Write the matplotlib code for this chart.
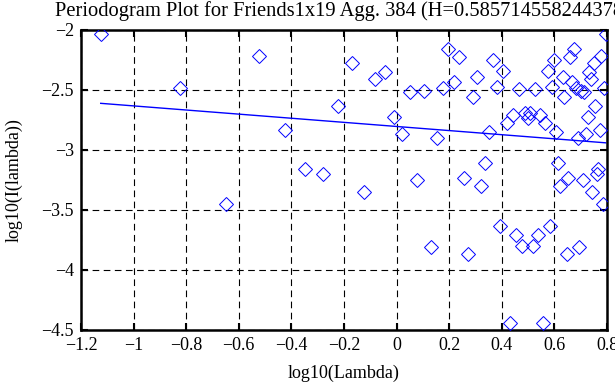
import matplotlib
matplotlib.use("Agg")
import matplotlib.pyplot as plt
import numpy as np

plt.rcParams['font.family'] = ['Liberation Serif', 'DejaVu Serif']
plt.rcParams['axes.unicode_minus'] = True

# log10 of Fourier frequencies 2*pi*k/84, k = 1..83
log_lambda = [
    -1.125, -0.824, -0.648, -0.523, -0.426, -0.347, -0.280, -0.222, -0.171, -0.125,
    -0.084, -0.046, -0.011, 0.021, 0.051, 0.079, 0.105, 0.130, 0.154, 0.176,
    0.197, 0.217, 0.237, 0.255, 0.273, 0.290, 0.306, 0.322, 0.337, 0.352,
    0.366, 0.380, 0.394, 0.406, 0.419, 0.431, 0.443, 0.455, 0.466, 0.477,
    0.488, 0.498, 0.508, 0.518, 0.528, 0.538, 0.547, 0.556, 0.565, 0.574,
    0.583, 0.591, 0.599, 0.607, 0.615, 0.623, 0.631, 0.638, 0.646, 0.653,
    0.660, 0.667, 0.674, 0.681, 0.688, 0.695, 0.701, 0.708, 0.714, 0.720,
    0.726, 0.732, 0.738, 0.744, 0.750, 0.756, 0.761, 0.767, 0.773, 0.778,
    0.784, 0.789, 0.795,
]
log_periodogram = [
    -2.033, -2.483, -3.453, -2.217, -2.833, -3.158, -3.203, -2.631, -2.278, -3.353,
    -2.411, -2.350, -2.722, -2.867, -2.514, -3.250, -2.508, -3.808, -2.900, -2.486,
    -2.161, -2.433, -2.225, -3.230, -3.867, -2.561, -2.392, -3.300, -3.111, -2.847,
    -2.247, -2.475, -3.631, -2.339, -2.775, -4.444, -2.712, -3.708, -2.492, -3.797,
    -2.690, -2.730, -2.690, -3.797, -2.492, -3.708, -2.712, -4.444, -2.775, -2.339,
    -3.631, -2.475, -2.247, -2.847, -3.111, -3.300, -2.392, -2.561, -3.867, -3.230,
    -2.225, -2.433, -2.161, -2.486, -2.900, -3.808, -2.508, -3.250, -2.514, -2.867,
    -2.722, -2.350, -2.411, -3.353, -2.278, -2.631, -3.203, -3.158, -2.833, -2.217,
    -3.453, -2.483, -2.033,
]
H_text = "0.5857145582443784"
H = float(H_text)
fit_slope = 1 - 2 * H
fit_intercept = -2.804

xticks = [-1.2, -1, -0.8, -0.6, -0.4, -0.2, 0, 0.2, 0.4, 0.6, 0.8]
yticks = [-4.5, -4, -3.5, -3, -2.5, -2]

fig = plt.figure(figsize=(6.15, 3.85), dpi=100)
ax = fig.add_axes([0.1317, 0.1429, 0.8553, 0.7792])

ax.plot(log_lambda, log_periodogram, linestyle='none', marker='D', markersize=7.0,
        markerfacecolor='none', markeredgecolor='blue', markeredgewidth=0.7, zorder=3)
xl = np.array([min(log_lambda), max(log_lambda)])
ax.plot(xl, fit_intercept + fit_slope * xl, color='blue', linewidth=1.0, zorder=2)

ax.set_xlim(-1.2, 0.8)
ax.set_ylim(-4.5, -2)
ax.set_xticks(xticks)
ax.set_yticks(yticks)
ax.set_xticklabels([f"{t:g}".replace('-', '\u2212') for t in xticks])
ax.set_yticklabels([f"{t:g}".replace('-', '\u2212') for t in yticks])
ax.grid(True, color='black', linestyle=(0, (6, 4)), linewidth=0.8)
ax.tick_params(direction='in', length=5, width=1.5, top=True, right=True,
               labelsize=13, pad=5)
for s in ax.spines.values():
    s.set_linewidth(1.8)

fig.text(55 / 615, 1 - 11 / 385,
         f"Periodogram Plot for Friends1x19 Agg. 384 (H={H_text})",
         fontsize=14.8, ha='left', va='center')
ax.set_xlabel("log10(Lambda)", fontsize=13)
ax.set_ylabel("log10(I(lambda))", fontsize=13)
ax.xaxis.set_label_coords(0.5, -0.115)
ax.yaxis.set_label_coords(-0.11, 0.5)

fig.savefig("out.png", dpi=100)
